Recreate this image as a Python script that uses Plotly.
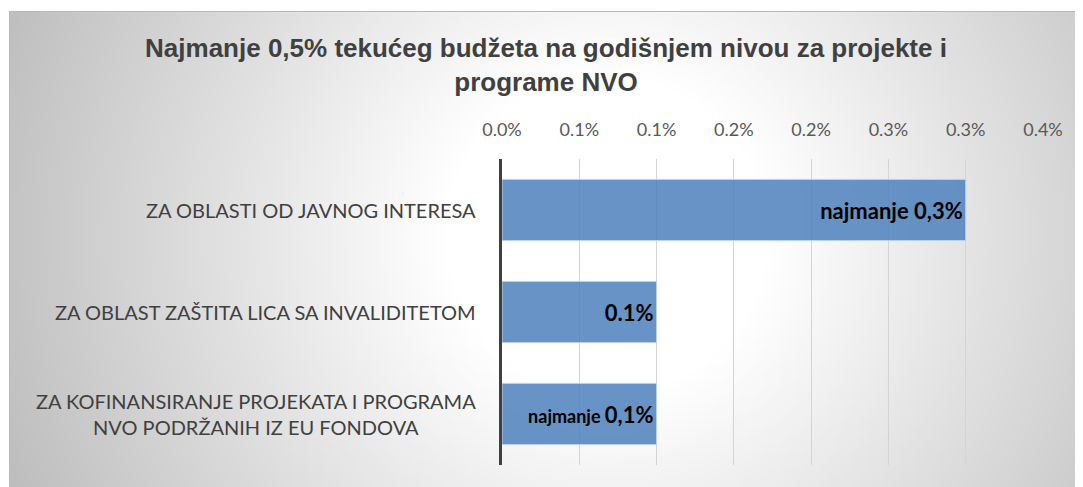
import base64
import struct
import zlib

import plotly.graph_objects as go

# ---------------- data ----------------
categories = [
    "ZA OBLASTI OD JAVNOG INTERESA",
    "ZA OBLAST ZAŠTITA LICA SA INVALIDITETOM",
    "ZA KOFINANSIRANJE PROJEKATA I PROGRAMA<br>NVO PODRŽANIH IZ EU FONDOVA",
]
values = [0.003, 0.001, 0.001]
bar_labels = [
    "najmanje 0,3%",
    "0.1%",
    "<span style='font-size:18px'>najmanje </span>0,1%",
]
tick_values = [0.0, 0.0005, 0.001, 0.0015, 0.002, 0.0025, 0.003, 0.0035]
tick_labels = ["0.0%", "0.1%", "0.1%", "0.2%", "0.2%", "0.3%", "0.3%", "0.4%"]
title_text = ("Najmanje 0,5% tekućeg budžeta na godišnjem nivou za projekte i"
              "<br>programe NVO")

# ---------------- layout geometry (figure pixel coords) ----------------
W, H = 1075, 479
ML, MR, MT, MB = 494, 40, 151, 22
PW, PH = W - ML - MR, H - MT - MB
CA_X, CA_Y = 1, 3  # chart-area top-left corner


def px_to_paper_x(px):
    return (px - ML) / PW


def px_to_paper_y(py):
    return (H - MB - py) / PH


# ---------------- radial gradient background (PNG) ----------------
def gradient_png(w, h, scale, cx, cy, r):
    rows = []
    for j in range(h):
        row = bytearray([0])
        py = (j + 0.5) * scale + CA_Y
        for i in range(w):
            pxx = (i + 0.5) * scale + CA_X
            d = (((pxx - cx) ** 2 + (py - cy) ** 2) ** 0.5) / r
            t = min(max(d - 0.35, 0.0), 1.2)
            v = int(round(255 - 62 * t))
            v = max(180, min(255, v))
            row += bytes([v, v, v])
        rows.append(bytes(row))
    raw = b"".join(rows)

    def chunk(tag, data):
        c = struct.pack(">I", len(data)) + tag + data
        return c + struct.pack(">I", zlib.crc32(tag + data) & 0xFFFFFFFF)

    png = b"\x89PNG\r\n\x1a\n"
    png += chunk(b"IHDR", struct.pack(">IIBBBBB", w, h, 8, 2, 0, 0, 0))
    png += chunk(b"IDAT", zlib.compress(raw, 9))
    png += chunk(b"IEND", b"")
    return "data:image/png;base64," + base64.b64encode(png).decode()


SCALE = 4
img_w = (W - CA_X) // SCALE + 1
img_h = (H - CA_Y) // SCALE + 1
bg_src = gradient_png(img_w, img_h, SCALE, 600, 230, 460)

# ---------------- figure ----------------
fig = go.Figure()
fig.add_trace(go.Bar(
    x=values,
    y=categories,
    orientation="h",
    text=bar_labels,
    textposition="inside",
    insidetextanchor="end",
    textangle=0,
    constraintext="none",
    textfont=dict(family="Lato", size=22, color="#000000", weight="bold"),
    marker=dict(color="rgba(79,129,189,0.86)",
                line=dict(color="rgba(190,210,235,1)", width=1)),
    width=0.6,
    hoverinfo="skip",
))

annotations = []
for cat in categories:
    annotations.append(dict(
        x=px_to_paper_x(470), xref="paper", xanchor="right",
        y=cat, yref="y", yanchor="middle",
        text=cat, showarrow=False, align="center",
        font=dict(family="Lato", size=20, color="#404040"),
    ))

fig.update_layout(
    width=W, height=H,
    margin=dict(l=ML, r=MR, t=MT, b=MB, pad=0),
    paper_bgcolor="#ffffff",
    plot_bgcolor="rgba(0,0,0,0)",
    showlegend=False,
    title=dict(
        text=title_text,
        x=538 / W, xref="container", xanchor="center",
        y=1 - 49 / H, yref="container", yanchor="middle",
        font=dict(family="Liberation Sans", size=26, color="#404040",
                  weight="bold"),
    ),
    images=[dict(
        source=bg_src, xref="paper", yref="paper",
        x=px_to_paper_x(CA_X), y=px_to_paper_y(CA_Y),
        sizex=(W - CA_X) / PW, sizey=(H - CA_Y) / PH,
        xanchor="left", yanchor="top", sizing="stretch", layer="below",
    )],
    shapes=[dict(
        type="rect", xref="paper", yref="paper",
        x0=px_to_paper_x(CA_X + 0.5), x1=px_to_paper_x(W + 2),
        y0=px_to_paper_y(H + 2), y1=px_to_paper_y(CA_Y + 0.5),
        line=dict(color="#b8b8b8", width=1), fillcolor="rgba(0,0,0,0)",
        layer="below",
    )],
    annotations=annotations,
    bargap=0.4,
)

fig.update_xaxes(
    side="top",
    range=[0, 0.0035],
    tickmode="array",
    tickvals=tick_values,
    ticktext=tick_labels,
    showgrid=True,
    gridcolor="#d4d4d4",
    gridwidth=1,
    zeroline=False,
    showline=False,
    ticks="outside",
    ticklen=15,
    tickcolor="rgba(0,0,0,0)",
    tickfont=dict(family="Lato", size=18, color="#595959"),
    fixedrange=True,
)
fig.update_yaxes(
    autorange="reversed",
    showticklabels=False,
    showgrid=False,
    zeroline=False,
    showline=True,
    linecolor="#404040",
    linewidth=3,
    ticks="",
    fixedrange=True,
)

fig.write_html("out.html")
